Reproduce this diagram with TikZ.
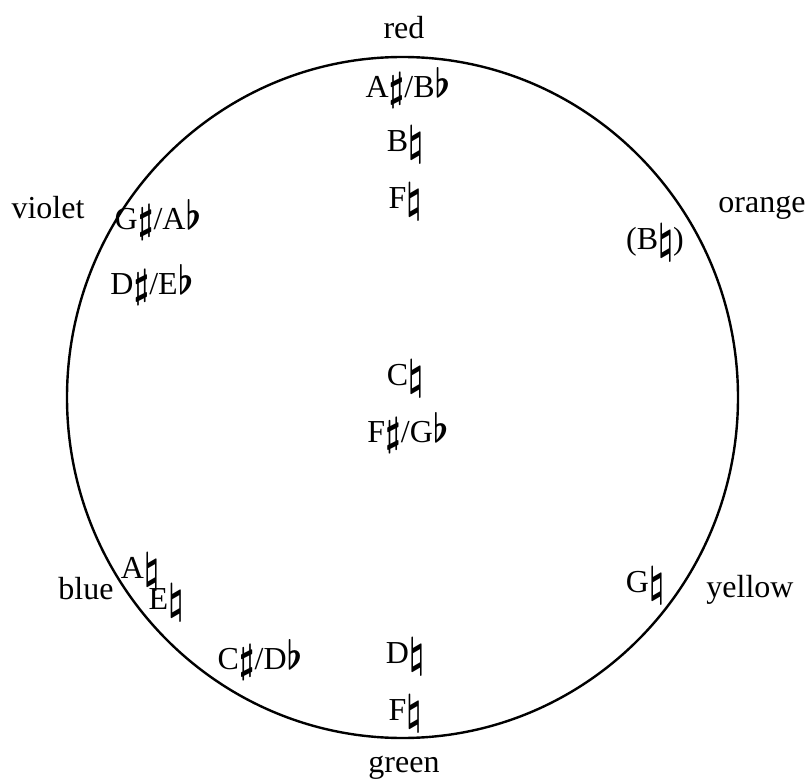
\RequirePackage{fix-cm}
\documentclass[tikz,border=0pt]{standalone}
\usepackage{fontspec}
\setmainfont{Liberation Serif}
\newcommand\mynat{\raisebox{-0.12em}{\scalebox{1.05}[1.3]{\boldmath$\natural$}}}
\newcommand\myshp{\raisebox{-0.1em}{\scalebox{1.1}[1.25]{\boldmath$\sharp$}}}
\newcommand\myflt{\scalebox{1.1}[1.25]{\boldmath$\flat$}}
\tikzset{lbl/.style={inner sep=0pt, font=\fontsize{32}{38}\selectfont}}
\begin{document}
\begin{tikzpicture}[x=1pt,y=-1pt]
\useasboundingbox (0,0) rectangle (808,783);
\draw[line width=2.4pt] (402.5,397.5) ellipse [x radius=335.5, y radius=340.5];
\node[lbl] (red) at (404,28) {red};
\node[lbl] (green) at (404,768) {green};
\node[lbl] (violet) at (48,208) {violet};
\node[lbl] (orange) at (762,208) {orange};
\node[lbl] (blue) at (86,589) {blue};
\node[lbl] (yellow) at (750,590) {yellow};
\node[lbl] (aisb) at (408,88) {A\myshp/B\myflt};
\node[lbl] (bn) at (405,145) {B\mynat};
\node[lbl] (fn1) at (405,202) {F\mynat};
\node[lbl] (gisa) at (158,220) {G\myshp/A\myflt};
\node[lbl] (dise) at (152,285) {D\myshp/E\myflt};
\node[lbl] (bn2) at (655,243) {(B\mynat)};
\node[lbl] (cn) at (405,379) {C\mynat};
\node[lbl] (fisg) at (408,433) {F\myshp/G\myflt};
\node[lbl] (an) at (140,572) {A\mynat};
\node[lbl] (en) at (166,603) {E\mynat};
\node[lbl] (cisd) at (260,660) {C\myshp/D\myflt};
\node[lbl] (gn) at (645,586) {G\mynat};
\node[lbl] (dn) at (405,657) {D\mynat};
\node[lbl] (fn2) at (405,714) {F\mynat};
\end{tikzpicture}
\end{document}
